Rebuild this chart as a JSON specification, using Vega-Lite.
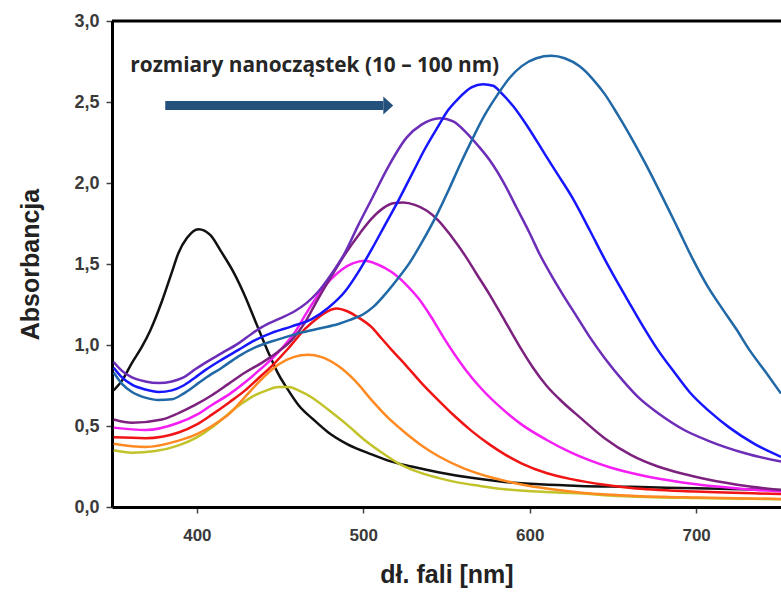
{
  "$schema": "https://vega.github.io/schema/vega-lite/v6.json",
  "width": 669,
  "height": 486,
  "autosize": {"type": "none"},
  "padding": {"left": 112, "top": 21, "right": 0, "bottom": 87},
  "background": "white",
  "config": {"view": {"stroke": null}, "font": "Liberation Sans"},
  "datasets": {
    "spectra": [
      {"s":"A","x":350,"y":0.72},{"s":"A","x":355,"y":0.78},{"s":"A","x":361,"y":0.89},{"s":"A","x":367,"y":0.99},{"s":"A","x":372,"y":1.09},{"s":"A","x":379,"y":1.27},{"s":"A","x":385,"y":1.45},{"s":"A","x":389,"y":1.57},{"s":"A","x":394,"y":1.66},{"s":"A","x":401,"y":1.715},{"s":"A","x":408,"y":1.68},{"s":"A","x":415,"y":1.57},{"s":"A","x":422,"y":1.45},{"s":"A","x":429,"y":1.3},{"s":"A","x":435,"y":1.15},{"s":"A","x":439,"y":1.05},{"s":"A","x":444,"y":0.93},{"s":"A","x":449,"y":0.82},{"s":"A","x":455,"y":0.72},{"s":"A","x":461,"y":0.63},{"s":"A","x":470,"y":0.54},{"s":"A","x":479,"y":0.46},{"s":"A","x":490,"y":0.39},{"s":"A","x":505,"y":0.325},{"s":"A","x":517,"y":0.28},{"s":"A","x":529,"y":0.25},{"s":"A","x":545,"y":0.215},{"s":"A","x":565,"y":0.18},{"s":"A","x":585,"y":0.155},{"s":"A","x":606,"y":0.14},{"s":"A","x":630,"y":0.13},{"s":"A","x":661,"y":0.125},{"s":"A","x":700,"y":0.115},{"s":"A","x":751,"y":0.105},

      {"s":"B","x":350,"y":0.35},{"s":"B","x":361,"y":0.335},{"s":"B","x":375,"y":0.345},{"s":"B","x":389,"y":0.38},{"s":"B","x":400,"y":0.43},{"s":"B","x":409,"y":0.49},{"s":"B","x":416,"y":0.55},{"s":"B","x":423,"y":0.61},{"s":"B","x":430,"y":0.66},{"s":"B","x":435,"y":0.69},{"s":"B","x":442,"y":0.72},{"s":"B","x":449,"y":0.74},{"s":"B","x":455,"y":0.74},{"s":"B","x":461,"y":0.72},{"s":"B","x":470,"y":0.67},{"s":"B","x":479,"y":0.6},{"s":"B","x":490,"y":0.51},{"s":"B","x":500,"y":0.42},{"s":"B","x":512,"y":0.33},{"s":"B","x":522,"y":0.265},{"s":"B","x":532,"y":0.22},{"s":"B","x":545,"y":0.18},{"s":"B","x":555,"y":0.155},{"s":"B","x":570,"y":0.13},{"s":"B","x":585,"y":0.11},{"s":"B","x":605,"y":0.095},{"s":"B","x":625,"y":0.086},{"s":"B","x":661,"y":0.065},{"s":"B","x":700,"y":0.055},{"s":"B","x":751,"y":0.048},

      {"s":"C","x":350,"y":0.39},{"s":"C","x":369,"y":0.37},{"s":"C","x":389,"y":0.41},{"s":"C","x":400,"y":0.45},{"s":"C","x":409,"y":0.5},{"s":"C","x":420,"y":0.58},{"s":"C","x":429,"y":0.68},{"s":"C","x":440,"y":0.8},{"s":"C","x":449,"y":0.88},{"s":"C","x":458,"y":0.925},{"s":"C","x":467,"y":0.94},{"s":"C","x":475,"y":0.925},{"s":"C","x":485,"y":0.87},{"s":"C","x":495,"y":0.78},{"s":"C","x":505,"y":0.66},{"s":"C","x":515,"y":0.55},{"s":"C","x":525,"y":0.46},{"s":"C","x":535,"y":0.38},{"s":"C","x":545,"y":0.315},{"s":"C","x":560,"y":0.24},{"s":"C","x":576,"y":0.185},{"s":"C","x":590,"y":0.15},{"s":"C","x":606,"y":0.12},{"s":"C","x":630,"y":0.09},{"s":"C","x":661,"y":0.07},{"s":"C","x":700,"y":0.058},{"s":"C","x":751,"y":0.05},

      {"s":"D","x":350,"y":0.43},{"s":"D","x":369,"y":0.425},{"s":"D","x":389,"y":0.46},{"s":"D","x":400,"y":0.51},{"s":"D","x":409,"y":0.57},{"s":"D","x":420,"y":0.65},{"s":"D","x":429,"y":0.72},{"s":"D","x":437,"y":0.795},{"s":"D","x":445,"y":0.87},{"s":"D","x":455,"y":0.98},{"s":"D","x":465,"y":1.1},{"s":"D","x":473,"y":1.17},{"s":"D","x":478,"y":1.205},{"s":"D","x":484,"y":1.225},{"s":"D","x":490,"y":1.21},{"s":"D","x":497,"y":1.17},{"s":"D","x":505,"y":1.11},{"s":"D","x":511,"y":1.04},{"s":"D","x":517,"y":0.97},{"s":"D","x":526,"y":0.87},{"s":"D","x":535,"y":0.765},{"s":"D","x":545,"y":0.66},{"s":"D","x":555,"y":0.56},{"s":"D","x":565,"y":0.47},{"s":"D","x":576,"y":0.385},{"s":"D","x":585,"y":0.325},{"s":"D","x":595,"y":0.27},{"s":"D","x":610,"y":0.21},{"s":"D","x":625,"y":0.172},{"s":"D","x":645,"y":0.137},{"s":"D","x":661,"y":0.117},{"s":"D","x":700,"y":0.095},{"s":"D","x":751,"y":0.08},

      {"s":"E","x":350,"y":0.49},{"s":"E","x":369,"y":0.475},{"s":"E","x":389,"y":0.52},{"s":"E","x":400,"y":0.57},{"s":"E","x":409,"y":0.63},{"s":"E","x":420,"y":0.7},{"s":"E","x":429,"y":0.77},{"s":"E","x":437,"y":0.84},{"s":"E","x":445,"y":0.915},{"s":"E","x":452,"y":0.99},{"s":"E","x":459,"y":1.08},{"s":"E","x":466,"y":1.2},{"s":"E","x":473,"y":1.31},{"s":"E","x":480,"y":1.4},{"s":"E","x":487,"y":1.465},{"s":"E","x":494,"y":1.505},{"s":"E","x":501,"y":1.52},{"s":"E","x":508,"y":1.5},{"s":"E","x":517,"y":1.45},{"s":"E","x":526,"y":1.37},{"s":"E","x":533,"y":1.29},{"s":"E","x":541,"y":1.17},{"s":"E","x":548,"y":1.05},{"s":"E","x":555,"y":0.94},{"s":"E","x":562,"y":0.84},{"s":"E","x":571,"y":0.73},{"s":"E","x":583,"y":0.61},{"s":"E","x":595,"y":0.51},{"s":"E","x":610,"y":0.415},{"s":"E","x":625,"y":0.335},{"s":"E","x":648,"y":0.245},{"s":"E","x":672,"y":0.185},{"s":"E","x":700,"y":0.14},{"s":"E","x":730,"y":0.11},{"s":"E","x":751,"y":0.095},

      {"s":"F","x":350,"y":0.54},{"s":"F","x":361,"y":0.52},{"s":"F","x":379,"y":0.54},{"s":"F","x":389,"y":0.58},{"s":"F","x":399,"y":0.63},{"s":"F","x":409,"y":0.69},{"s":"F","x":419,"y":0.76},{"s":"F","x":429,"y":0.83},{"s":"F","x":439,"y":0.89},{"s":"F","x":449,"y":0.96},{"s":"F","x":457,"y":1.03},{"s":"F","x":465,"y":1.14},{"s":"F","x":472,"y":1.27},{"s":"F","x":480,"y":1.41},{"s":"F","x":489,"y":1.56},{"s":"F","x":498,"y":1.69},{"s":"F","x":505,"y":1.78},{"s":"F","x":512,"y":1.845},{"s":"F","x":518,"y":1.875},{"s":"F","x":524,"y":1.88},{"s":"F","x":531,"y":1.865},{"s":"F","x":538,"y":1.83},{"s":"F","x":545,"y":1.77},{"s":"F","x":553,"y":1.67},{"s":"F","x":561,"y":1.555},{"s":"F","x":568,"y":1.44},{"s":"F","x":576,"y":1.31},{"s":"F","x":585,"y":1.15},{"s":"F","x":594,"y":0.99},{"s":"F","x":602,"y":0.86},{"s":"F","x":610,"y":0.75},{"s":"F","x":620,"y":0.645},{"s":"F","x":630,"y":0.555},{"s":"F","x":645,"y":0.425},{"s":"F","x":661,"y":0.32},{"s":"F","x":677,"y":0.25},{"s":"F","x":692,"y":0.205},{"s":"F","x":707,"y":0.17},{"s":"F","x":730,"y":0.13},{"s":"F","x":751,"y":0.105},

      {"s":"G","x":350,"y":0.895},{"s":"G","x":355,"y":0.84},{"s":"G","x":361,"y":0.8},{"s":"G","x":369,"y":0.775},{"s":"G","x":377,"y":0.765},{"s":"G","x":385,"y":0.775},{"s":"G","x":392,"y":0.8},{"s":"G","x":399,"y":0.85},{"s":"G","x":405,"y":0.89},{"s":"G","x":415,"y":0.95},{"s":"G","x":425,"y":1.01},{"s":"G","x":433,"y":1.07},{"s":"G","x":439,"y":1.11},{"s":"G","x":449,"y":1.16},{"s":"G","x":459,"y":1.21},{"s":"G","x":466,"y":1.26},{"s":"G","x":473,"y":1.33},{"s":"G","x":481,"y":1.44},{"s":"G","x":489,"y":1.57},{"s":"G","x":497,"y":1.74},{"s":"G","x":505,"y":1.9},{"s":"G","x":515,"y":2.1},{"s":"G","x":526,"y":2.28},{"s":"G","x":535,"y":2.36},{"s":"G","x":546,"y":2.4},{"s":"G","x":554,"y":2.38},{"s":"G","x":562,"y":2.31},{"s":"G","x":569,"y":2.23},{"s":"G","x":576,"y":2.14},{"s":"G","x":585,"y":1.99},{"s":"G","x":592,"y":1.85},{"s":"G","x":600,"y":1.69},{"s":"G","x":606,"y":1.56},{"s":"G","x":613,"y":1.43},{"s":"G","x":620,"y":1.31},{"s":"G","x":628,"y":1.18},{"s":"G","x":636,"y":1.05},{"s":"G","x":645,"y":0.92},{"s":"G","x":656,"y":0.78},{"s":"G","x":666,"y":0.67},{"s":"G","x":677,"y":0.58},{"s":"G","x":692,"y":0.48},{"s":"G","x":707,"y":0.41},{"s":"G","x":730,"y":0.33},{"s":"G","x":751,"y":0.28},

      {"s":"H","x":350,"y":0.86},{"s":"H","x":355,"y":0.8},{"s":"H","x":361,"y":0.755},{"s":"H","x":369,"y":0.725},{"s":"H","x":377,"y":0.71},{"s":"H","x":385,"y":0.72},{"s":"H","x":392,"y":0.75},{"s":"H","x":399,"y":0.8},{"s":"H","x":405,"y":0.845},{"s":"H","x":415,"y":0.91},{"s":"H","x":425,"y":0.97},{"s":"H","x":435,"y":1.03},{"s":"H","x":445,"y":1.075},{"s":"H","x":457,"y":1.115},{"s":"H","x":469,"y":1.16},{"s":"H","x":479,"y":1.23},{"s":"H","x":489,"y":1.33},{"s":"H","x":497,"y":1.45},{"s":"H","x":505,"y":1.59},{"s":"H","x":513,"y":1.74},{"s":"H","x":521,"y":1.89},{"s":"H","x":530,"y":2.07},{"s":"H","x":537,"y":2.21},{"s":"H","x":545,"y":2.35},{"s":"H","x":551,"y":2.45},{"s":"H","x":557,"y":2.52},{"s":"H","x":565,"y":2.59},{"s":"H","x":572,"y":2.61},{"s":"H","x":578,"y":2.6},{"s":"H","x":583,"y":2.555},{"s":"H","x":590,"y":2.475},{"s":"H","x":598,"y":2.36},{"s":"H","x":609,"y":2.18},{"s":"H","x":617,"y":2.05},{"s":"H","x":625,"y":1.92},{"s":"H","x":636,"y":1.71},{"s":"H","x":644,"y":1.55},{"s":"H","x":652,"y":1.4},{"s":"H","x":661,"y":1.24},{"s":"H","x":669,"y":1.1},{"s":"H","x":677,"y":0.97},{"s":"H","x":687,"y":0.83},{"s":"H","x":696,"y":0.71},{"s":"H","x":708,"y":0.59},{"s":"H","x":720,"y":0.49},{"s":"H","x":735,"y":0.39},{"s":"H","x":751,"y":0.31},

      {"s":"I","x":350,"y":0.83},{"s":"I","x":355,"y":0.76},{"s":"I","x":361,"y":0.71},{"s":"I","x":369,"y":0.675},{"s":"I","x":377,"y":0.66},{"s":"I","x":385,"y":0.665},{"s":"I","x":392,"y":0.7},{"s":"I","x":399,"y":0.75},{"s":"I","x":405,"y":0.795},{"s":"I","x":415,"y":0.86},{"s":"I","x":425,"y":0.93},{"s":"I","x":435,"y":0.985},{"s":"I","x":449,"y":1.035},{"s":"I","x":462,"y":1.075},{"s":"I","x":475,"y":1.105},{"s":"I","x":485,"y":1.13},{"s":"I","x":492,"y":1.155},{"s":"I","x":500,"y":1.19},{"s":"I","x":506,"y":1.235},{"s":"I","x":512,"y":1.3},{"s":"I","x":520,"y":1.4},{"s":"I","x":528,"y":1.51},{"s":"I","x":535,"y":1.63},{"s":"I","x":545,"y":1.82},{"s":"I","x":551,"y":1.95},{"s":"I","x":558,"y":2.11},{"s":"I","x":565,"y":2.26},{"s":"I","x":573,"y":2.42},{"s":"I","x":581,"y":2.55},{"s":"I","x":588,"y":2.65},{"s":"I","x":595,"y":2.72},{"s":"I","x":604,"y":2.77},{"s":"I","x":613,"y":2.785},{"s":"I","x":621,"y":2.77},{"s":"I","x":630,"y":2.72},{"s":"I","x":638,"y":2.64},{"s":"I","x":645,"y":2.55},{"s":"I","x":653,"y":2.42},{"s":"I","x":661,"y":2.28},{"s":"I","x":669,"y":2.13},{"s":"I","x":677,"y":1.97},{"s":"I","x":689,"y":1.72},{"s":"I","x":698,"y":1.53},{"s":"I","x":707,"y":1.36},{"s":"I","x":716,"y":1.22},{"s":"I","x":724,"y":1.1},{"s":"I","x":732,"y":0.97},{"s":"I","x":742,"y":0.83},{"s":"I","x":751,"y":0.7}
    ],
    "note": [{"x": 360, "y": 2.685, "t": "rozmiary nanocząstek (10 – 100 nm)"}],
    "arrow": [{"x": 381, "x2": 512, "y": 2.478}],
    "head": [{"x": 515, "y": 2.478}]
  },
  "layer": [
    {
      "data": {"name": "spectra"},
      "mark": {"type": "line", "strokeWidth": 2.5, "clip": true, "interpolate": "monotone"},
      "encoding": {
        "x": {
          "field": "x", "type": "quantitative", "title": "dł. fali [nm]",
          "scale": {"domain": [349, 751], "nice": false, "zero": false},
          "axis": {
            "values": [400, 500, 600, 700], "format": "d", "grid": false,
            "domain": true, "domainWidth": 3, "domainColor": "#000",
            "tickSize": 6, "tickWidth": 1.5, "tickColor": "#444",
            "labelFont": "Liberation Sans", "labelFontSize": 17, "labelFontWeight": "bold", "labelColor": "#3a3a3a", "labelPadding": 14,
            "titleFont": "Liberation Sans", "titleFontSize": 25, "titleFontWeight": "bold", "titleColor": "#222", "titlePadding": 19
          }
        },
        "y": {
          "field": "y", "type": "quantitative", "title": "Absorbancja",
          "scale": {"domain": [0, 3], "nice": false},
          "axis": {
            "values": [0, 0.5, 1, 1.5, 2, 2.5, 3], "grid": false,
            "labelExpr": "replace(format(datum.value, '.1f'), '.', ',')",
            "domain": true, "domainWidth": 3, "domainColor": "#000",
            "tickSize": 6, "tickWidth": 1.5, "tickColor": "#444",
            "labelFont": "Liberation Sans", "labelFontSize": 18, "labelFontWeight": "bold", "labelColor": "#3a3a3a", "labelPadding": 7,
            "titleFont": "Liberation Sans", "titleFontSize": 25, "titleFontWeight": "bold", "titleColor": "#222", "titlePadding": 30
          }
        },
        "color": {
          "field": "s", "type": "nominal", "legend": null,
          "scale": {
            "domain": ["A","B","C","D","E","F","G","H","I"],
            "range": ["#111111","#c2c22a","#ff8a22","#f01414","#f51ef5","#7d217f","#6c2db8","#1616ff","#2068a6"]
          }
        }
      }
    },
    {
      "data": {"name": "note"},
      "mark": {"type": "rule", "strokeWidth": 3, "color": "#000"},
      "encoding": {"y": {"datum": 3, "type": "quantitative", "title": "Absorbancja"}}
    },
    {
      "data": {"name": "arrow"},
      "mark": {"type": "rule", "strokeWidth": 9, "color": "#24507c"},
      "encoding": {
        "x": {"field": "x", "type": "quantitative", "title": "dł. fali [nm]"},
        "x2": {"field": "x2"},
        "y": {"field": "y", "type": "quantitative", "title": "Absorbancja"}
      }
    },
    {
      "data": {"name": "head"},
      "mark": {"type": "point", "shape": "M-0.55,-1L0.55,0L-0.55,1Z", "size": 324, "filled": true, "opacity": 1, "color": "#24507c", "strokeWidth": 0},
      "encoding": {
        "x": {"field": "x", "type": "quantitative", "title": "dł. fali [nm]"},
        "y": {"field": "y", "type": "quantitative", "title": "Absorbancja"}
      }
    },
    {
      "data": {"name": "note"},
      "mark": {"type": "text", "align": "left", "baseline": "alphabetic", "font": "Open Sans", "fontWeight": "bold", "fontSize": 20.8, "color": "#262626"},
      "encoding": {
        "x": {"field": "x", "type": "quantitative", "title": "dł. fali [nm]"},
        "y": {"field": "y", "type": "quantitative", "title": "Absorbancja"},
        "text": {"field": "t"}
      }
    }
  ]
}
